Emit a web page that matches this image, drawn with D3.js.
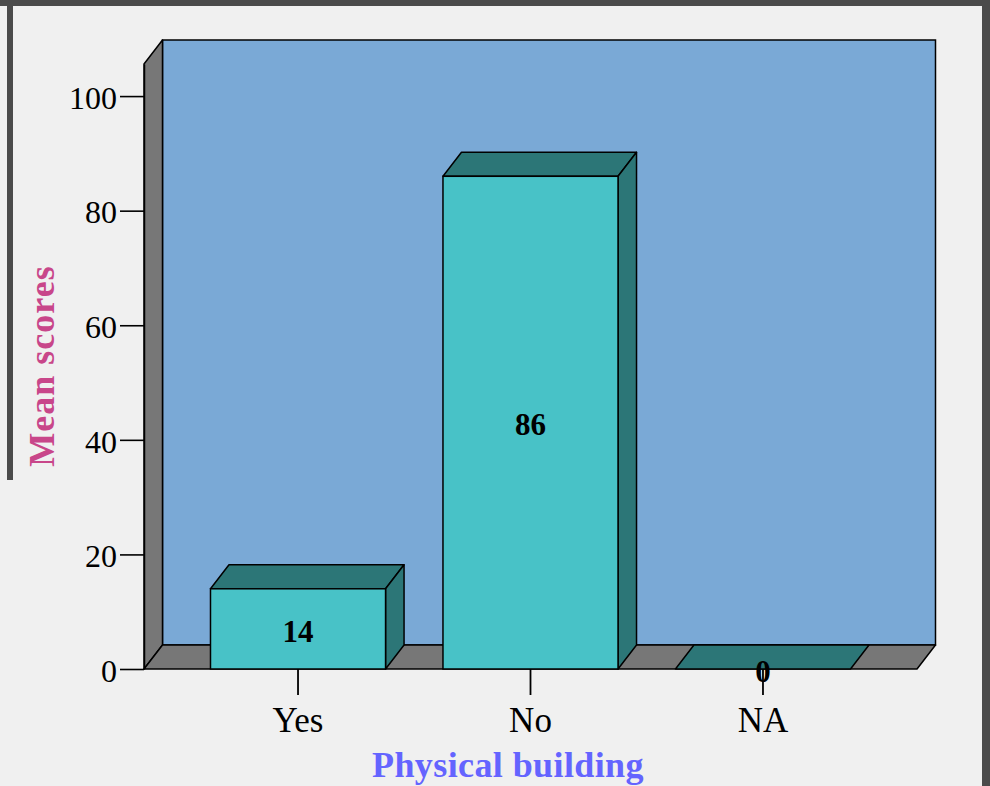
<!DOCTYPE html>
<html>
<head>
<meta charset="utf-8">
<script src="https://cdn.jsdelivr.net/npm/d3@7/dist/d3.min.js"></script>
<style>
  html, body { margin: 0; padding: 0; background: #f0f0f0; }
  svg { display: block; }
</style>
</head>
<body>
<svg id="chart" width="990" height="786"></svg>
<script>
// Mean scores per answer for "Physical building"
const categories = ["Yes", "No", "NA"];
const values = [14, 86, 0];
const yTicks = [0, 20, 40, 60, 80, 100];

const W = 990, H = 786;
const svg = d3.select("#chart");

// window frame
svg.append("rect").attr("x", 0).attr("y", 0).attr("width", W).attr("height", H).attr("fill", "#f0f0f0");
svg.append("rect").attr("x", 0).attr("y", 0).attr("width", W).attr("height", 6).attr("fill", "#4b4b4b");
svg.append("rect").attr("x", 7).attr("y", 0).attr("width", 6).attr("height", 480).attr("fill", "#4b4b4b");
svg.append("rect").attr("x", 982).attr("y", 0).attr("width", 8).attr("height", H).attr("fill", "#4b4b4b");

// plot geometry (front plane) and depth offset
const plotLeft = 144, plotRight = 917, plotBase = 669, plotTop = 64;
const dx = 18.5, dy = -24;

const y = d3.scaleLinear().domain([0, 105.6]).range([plotBase, plotTop]);
const x = d3.scaleBand().domain(categories).range([plotLeft, plotRight])
  .paddingInner(0.247).paddingOuter(0.286);

const stroke = "#000";
const sw = 1.5;
const poly = pts => "M" + pts.map(p => p.join(",")).join("L") + "Z";

// back wall
svg.append("rect")
  .attr("x", plotLeft + dx).attr("y", plotTop + dy)
  .attr("width", plotRight - plotLeft).attr("height", plotBase - plotTop)
  .attr("fill", "#7aa9d6").attr("stroke", stroke).attr("stroke-width", sw);

// side wall
svg.append("path")
  .attr("d", poly([[plotLeft, plotBase], [plotLeft, plotTop], [plotLeft + dx, plotTop + dy], [plotLeft + dx, plotBase + dy]]))
  .attr("fill", "#777777").attr("stroke", stroke).attr("stroke-width", sw).attr("stroke-linejoin", "round");

// floor
svg.append("path")
  .attr("d", poly([[plotLeft, plotBase], [plotLeft + dx, plotBase + dy], [plotRight + dx, plotBase + dy], [plotRight, plotBase]]))
  .attr("fill", "#777777").attr("stroke", stroke).attr("stroke-width", sw).attr("stroke-linejoin", "round");

// bars
const frontCol = "#48c2c7", darkCol = "#2c7677";
const rows = categories.map((c, i) => ({ c, v: values[i] }));
const bars = svg.append("g").selectAll("g").data(rows).join("g");

bars.each(function (d) {
  const g = d3.select(this);
  const x0 = x(d.c), x1 = x(d.c) + x.bandwidth();
  const yt = y(d.v);
  // top face
  g.append("path")
    .attr("d", poly([[x0, yt], [x0 + dx, yt + dy], [x1 + dx, yt + dy], [x1, yt]]))
    .attr("fill", darkCol).attr("stroke", stroke).attr("stroke-width", sw).attr("stroke-linejoin", "round");
  if (d.v > 0) {
    // side face
    g.append("path")
      .attr("d", poly([[x1, plotBase], [x1, yt], [x1 + dx, yt + dy], [x1 + dx, plotBase + dy]]))
      .attr("fill", darkCol).attr("stroke", stroke).attr("stroke-width", sw).attr("stroke-linejoin", "round");
    // front face
    g.append("rect")
      .attr("x", x0).attr("y", yt).attr("width", x1 - x0).attr("height", plotBase - yt)
      .attr("fill", frontCol).attr("stroke", stroke).attr("stroke-width", sw);
  }
});

// y axis
const yAxis = svg.append("g").attr("transform", `translate(${plotLeft},0)`)
  .call(d3.axisLeft(y).tickValues(yTicks).tickSize(24).tickSizeOuter(0).tickPadding(3));
yAxis.select(".domain").attr("stroke", "#000").attr("stroke-width", sw);
yAxis.selectAll(".tick line").attr("stroke", "#000").attr("stroke-width", 1.6);
yAxis.selectAll(".tick text")
  .attr("font-family", "'Liberation Serif', 'Times New Roman', serif")
  .attr("font-size", 32).attr("fill", "#000").attr("dy", "0.38em");

// x axis
const xAxis = svg.append("g").attr("transform", `translate(0,${plotBase})`)
  .call(d3.axisBottom(x).tickSize(26).tickSizeOuter(0));
xAxis.select(".domain").remove();
xAxis.selectAll(".tick line").attr("stroke", "#000").attr("stroke-width", 1.8);
xAxis.selectAll(".tick text")
  .attr("font-family", "'Liberation Serif', 'Times New Roman', serif")
  .attr("font-size", 35).attr("fill", "#000").attr("y", 63).attr("dy", 0);

// value labels
svg.append("g").selectAll("text").data(rows)
  .join("text")
  .attr("x", d => x(d.c) + x.bandwidth() / 2)
  .attr("y", d => (y(d.v) + plotBase) / 2 + 2)
  .attr("dy", "0.35em")
  .attr("text-anchor", "middle")
  .attr("font-family", "'Liberation Serif', 'Times New Roman', serif")
  .attr("font-weight", "bold").attr("font-size", 31).attr("fill", "#000")
  .text(d => d.v);

// axis titles
svg.append("text")
  .attr("x", 508).attr("y", 777)
  .attr("text-anchor", "middle")
  .attr("font-family", "'Liberation Serif', 'Times New Roman', serif")
  .attr("font-weight", "bold").attr("font-size", 36).attr("fill", "#6464ff")
  .attr("letter-spacing", 0.4)
  .text("Physical building");

svg.append("text")
  .attr("transform", "translate(54,366) rotate(-90)")
  .attr("text-anchor", "middle")
  .attr("font-family", "'Liberation Serif', 'Times New Roman', serif")
  .attr("font-weight", "bold").attr("font-size", 36).attr("fill", "#c8468a")
  .attr("letter-spacing", 1)
  .text("Mean scores");
</script>
</body>
</html>
